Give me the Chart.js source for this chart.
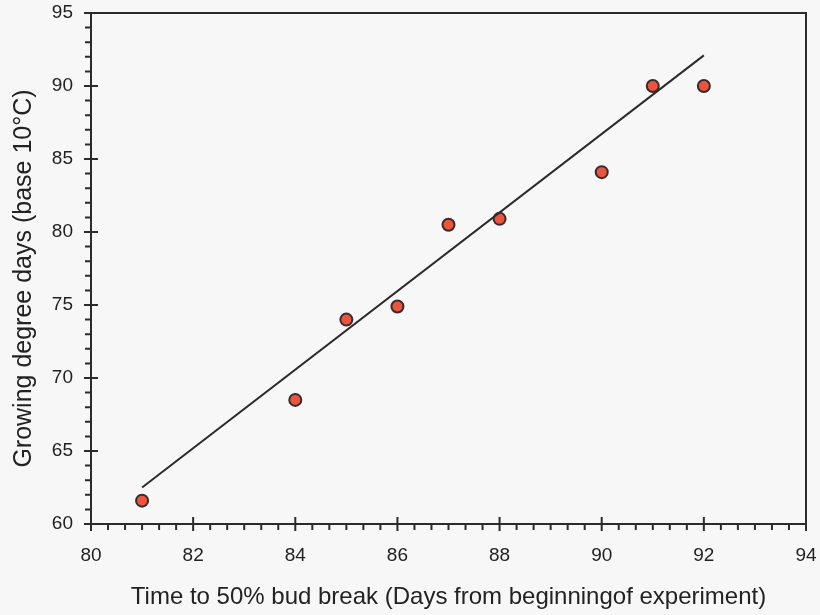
<!DOCTYPE html>
<html>
<head>
<meta charset="utf-8">
<title>Bud break vs growing degree days</title>
<script src="https://cdn.jsdelivr.net/npm/chart.js@4/dist/chart.umd.min.js"></script>
<style>
    html, body { margin: 0; padding: 0; background: #f7f7f7; }
    #wrap { width: 820px; height: 615px; position: relative; }
</style>
</head>
<body>
<div id="wrap"><canvas id="chartBud"></canvas></div>
<script>
// days to 50% bud break and the matching growing degree days
var budDays = [81, 84, 85, 86, 87, 88, 90, 91, 92];
var gddValues = [61.6, 68.5, 74.0, 74.9, 80.5, 80.9, 84.1, 90.0, 90.0];

// fitted line, end points
var fitDays = [81, 92];
var fitGdd = [62.5, 92.1];

// axis ranges
var xTicks = [80, 82, 84, 86, 88, 90, 92, 94];
var yTicks = [60, 65, 70, 75, 80, 85, 90, 95];

var ink = '#2b2b2b';
var font = "'Liberation Sans', Arial, Helvetica, sans-serif";

function pairs(xs, ys) {
    var out = [];
    for (var i = 0; i < xs.length; i++) {
        out.push({ x: xs[i], y: ys[i] });
    }
    return out;
}

// frame around the plot plus the crossing major ticks and outside minor ticks
var frameTicks = {
    id: 'frameTicks',
    afterDraw: function (chart) {
        var c = chart.ctx;
        var a = chart.chartArea;
        var xs = chart.scales.x;
        var ys = chart.scales.y;
        c.save();
        c.strokeStyle = ink;
        c.lineWidth = 2;
        c.strokeRect(a.left, a.top, a.right - a.left, a.bottom - a.top);

        c.beginPath();
        // x axis
        for (var i = 0; i < xTicks.length; i++) {
            var px = xs.getPixelForValue(xTicks[i]);
            c.moveTo(px, a.bottom - 7);
            c.lineTo(px, a.bottom + 7);
            if (i < xTicks.length - 1) {
                for (var k = 1; k < 6; k++) {
                    var mx = xs.getPixelForValue(xTicks[i] + k * (xTicks[i + 1] - xTicks[i]) / 6);
                    c.moveTo(mx, a.bottom);
                    c.lineTo(mx, a.bottom + 6);
                }
            }
        }
        // y axis
        for (var j = 0; j < yTicks.length; j++) {
            var py = ys.getPixelForValue(yTicks[j]);
            c.moveTo(a.left - 7, py);
            c.lineTo(a.left + 7, py);
            if (j < yTicks.length - 1) {
                for (var m = 1; m < 5; m++) {
                    var my = ys.getPixelForValue(yTicks[j] + m);
                    c.moveTo(a.left - 6, my);
                    c.lineTo(a.left, my);
                }
            }
        }
        c.stroke();
        c.restore();
    }
};

// y title drawn by hand so it can sit a little below the plot middle
var yTitle = {
    id: 'yTitle',
    afterDraw: function (chart) {
        var c = chart.ctx;
        var a = chart.chartArea;
        c.save();
        c.translate(24, (a.top + a.bottom) / 2 + 10);
        c.rotate(-Math.PI / 2);
        c.fillStyle = '#222';
        c.font = '25px ' + font;
        c.textAlign = 'center';
        c.textBaseline = 'middle';
        c.fillText('Growing degree days (base 10°C)', 0, 0);
        c.restore();
    }
};

var ctx = document.getElementById('chartBud').getContext('2d');

var budChart = new Chart(ctx, {
    type: 'scatter',
    data: {
        datasets: [{
            label: 'Observed',
            data: pairs(budDays, gddValues),
            pointRadius: 6,
            pointHoverRadius: 6,
            backgroundColor: '#ea5540',
            borderColor: '#3a2b28',
            borderWidth: 2,
            order: 2
        }, {
            type: 'line',
            label: 'Fit',
            data: pairs(fitDays, fitGdd),
            borderColor: ink,
            borderWidth: 2,
            pointRadius: 0,
            fill: false,
            order: 1
        }]
    },
    options: {
        responsive: true,
        maintainAspectRatio: false,
        animation: false,
        layout: { padding: { top: 13, right: 14, left: 0, bottom: 0 } },
        plugins: {
            legend: { display: false },
            tooltip: { enabled: false }
        },
        scales: {
            x: {
                type: 'linear',
                min: 80,
                max: 94,
                afterBuildTicks: function (s) { s.ticks = xTicks.map(function (v) { return { value: v }; }); },
                afterFit: function (s) {
                    s.height = 91;
                    s.paddingLeft = 0;
                    s.paddingRight = 0;
                },
                grid: { display: false, drawTicks: false },
                border: { display: false },
                ticks: { color: '#222', padding: 20, font: { family: font, size: 19 } },
                title: {
                    display: true,
                    text: 'Time to 50% bud break (Days from beginningof experiment)',
                    color: '#222',
                    font: { family: font, size: 24 },
                    padding: { top: 0, bottom: 3 }
                }
            },
            y: {
                type: 'linear',
                min: 60,
                max: 95,
                afterBuildTicks: function (s) { s.ticks = yTicks.map(function (v) { return { value: v }; }); },
                afterFit: function (s) {
                    s.width = 91;
                    s.paddingTop = 0;
                    s.paddingBottom = 0;
                },
                grid: { display: false, drawTicks: false },
                border: { display: false },
                ticks: { color: '#222', padding: 18, font: { family: font, size: 19 } }
            }
        }
    },
    plugins: [frameTicks, yTitle]
});
</script>
</body>
</html>
